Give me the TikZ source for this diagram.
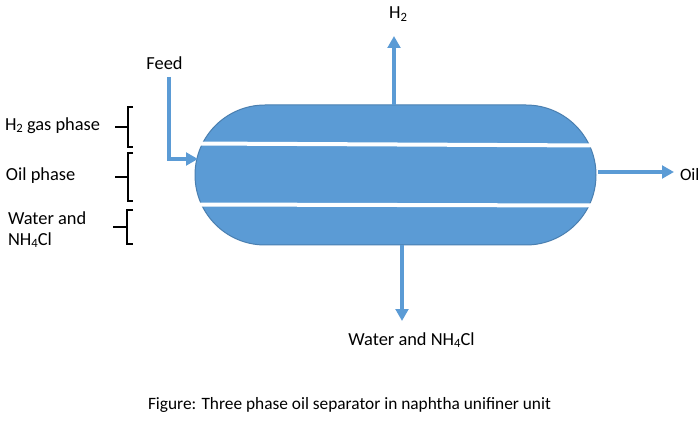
\documentclass[tikz,border=0pt]{standalone}
\usepackage{fontspec}
\setmainfont{Carlito}
\usetikzlibrary{arrows.meta,shapes.misc}
\definecolor{vesselblue}{HTML}{5B9BD5}
\definecolor{vesseledge}{HTML}{4A7FB0}
\tikzset{
  x=0.75pt,y=-0.75pt,
  vesselbody/.style={rounded rectangle,rounded rectangle arc length=180,fill=vesselblue,draw=vesseledge,line width=0.75pt,minimum width=300.75pt,minimum height=105pt,inner sep=0pt,outer sep=0pt},
  flow/.style={draw=vesselblue,line width=3.2pt,-{Triangle[length=9pt,width=9.5pt]}},
  layerline/.style={draw=white,line width=3pt},
  bracket/.style={draw=black,line width=1.5pt},
  lbl/.style={inner sep=0pt,outer sep=0pt,font=\fontsize{13.8}{16}\selectfont,text=black},
  captionlbl/.style={inner sep=0pt,outer sep=0pt,font=\fontsize{13}{15}\selectfont,text=black}
}
\newcommand{\chemsub}[1]{\raisebox{-0.3ex}{\fontsize{9.5}{10}\selectfont #1}}
\begin{document}
\begin{tikzpicture}
\useasboundingbox (0,0) rectangle (700,424);
\fill[white] (0,0) rectangle (700,424);
\node[vesselbody] (vessel) at (395.5,175) {};
% layer separators
\coordinate (u1) at (197,143.5);
\coordinate (u2) at (597,145.5);
\coordinate (w1) at (197,204.5);
\coordinate (w2) at (597,205.5);
\draw[layerline] (u1) -- (u2);
\draw[layerline] (w1) -- (w2);
% labels
\node[lbl,anchor=center] (feed) at (164.5,63) {Feed};
\node[lbl,anchor=center] (htop) at (398,14) {H\chemsub{2}};
\node[captionlbl,anchor=west] (oilout) at (680,175) {Oil};
\node[lbl,anchor=center] (waterout) at (411.5,340) {Water and NH\chemsub{4}Cl};
\node[lbl,anchor=west] (hgas) at (5,125.5) {H\chemsub{2} gas phase};
\node[lbl,anchor=west] (oilph) at (6,176) {Oil phase};
\node[lbl,anchor=west] (water1) at (8,218) {Water and};
\node[lbl,anchor=west] (water2) at (8,240) {NH\chemsub{4}Cl};
\node[captionlbl,anchor=center] (caption) at (349.5,404.5) {Figure: Three phase oil separator in naphtha unifiner unit};
% flows
\coordinate (feedstart) at (169,77);
\coordinate (feedbend) at (169,159);
\coordinate (feedend) at (198,159);
\draw[flow] (feedstart) -- (feedbend) -- (feedend);
\coordinate (hs) at (394,105);
\coordinate (he) at (394,36);
\draw[flow] (hs) -- (he);
\coordinate (os) at (598,172);
\coordinate (oe) at (674,172);
\draw[flow] (os) -- (oe);
\coordinate (ws) at (402,245);
\coordinate (we) at (402,321);
\draw[flow] (ws) -- (we);
% brackets
\coordinate (a1) at (133,107); \coordinate (a2) at (128,107); \coordinate (a3) at (128,147); \coordinate (a4) at (133,147);
\coordinate (a5) at (115,127); \coordinate (a6) at (128,127);
\draw[bracket] (a1) -- (a2) -- (a3) -- (a4);
\draw[bracket] (a5) -- (a6);
\coordinate (b1) at (133,153); \coordinate (b2) at (128,153); \coordinate (b3) at (128,201); \coordinate (b4) at (133,201);
\coordinate (b5) at (115,177); \coordinate (b6) at (128,177);
\draw[bracket] (b1) -- (b2) -- (b3) -- (b4);
\draw[bracket] (b5) -- (b6);
\coordinate (c1) at (133,210); \coordinate (c2) at (127,210); \coordinate (c3) at (127,244); \coordinate (c4) at (133,244);
\coordinate (c5) at (113,227); \coordinate (c6) at (127,227);
\draw[bracket] (c1) -- (c2) -- (c3) -- (c4);
\draw[bracket] (c5) -- (c6);
\end{tikzpicture}
\end{document}
